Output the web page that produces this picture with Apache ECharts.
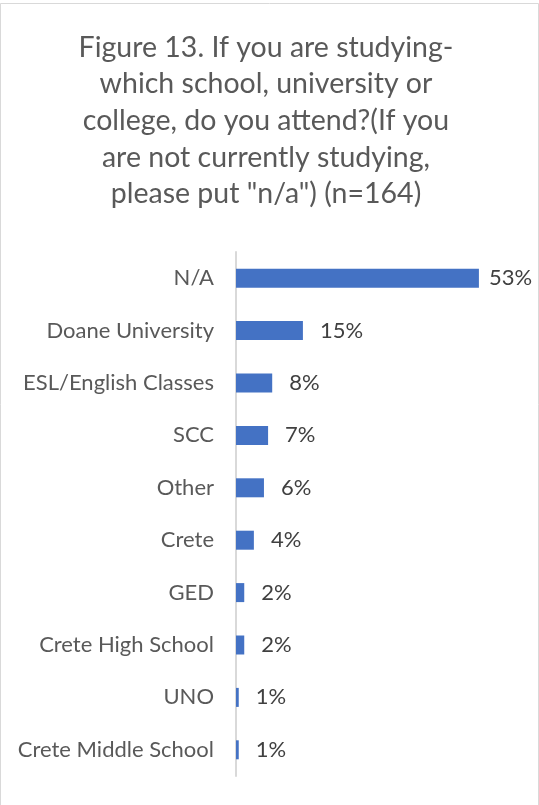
<!DOCTYPE html>
<html>
<head>
<meta charset="utf-8">
<script src="https://cdn.jsdelivr.net/npm/echarts@6/dist/echarts.min.js"></script>
<style>
html,body{margin:0;padding:0;background:#fff;}
#chart{width:539px;height:805px;}
</style>
</head>
<body>
<div id="chart"></div>
<script>
// Data (percent of respondents, n=164)
const titleText = 'Figure 13. If you are studying-\nwhich school, university or\ncollege, do you attend?(If you\nare not currently studying,\nplease put "n/a") (n=164)';
const categories = ['N/A', 'Doane University', 'ESL/English Classes', 'SCC', 'Other', 'Crete', 'GED', 'Crete High School', 'UNO', 'Crete Middle School'];
const values = [53.0, 14.6, 7.9, 7.0, 6.1, 3.9, 1.8, 1.8, 0.6, 0.6];

const FONT = 'Lato';
const chart = echarts.init(document.getElementById('chart'), null, {renderer: 'canvas'});

const seriesData = values.map((v, i) => i === 0
  ? {value: v, label: {distance: 10}}
  : {value: v});

chart.setOption({
  animation: false,
  backgroundColor: '#ffffff',
  title: {
    text: titleText,
    left: 261,
    top: 24,
    textAlign: 'center',
    textStyle: {
      fontFamily: FONT,
      fontSize: 28.5,
      fontWeight: 'normal',
      color: '#595959',
      lineHeight: 36.7
    }
  },
  graphic: [{
    type: 'rect',
    shape: {x: 0.5, y: 3.5, width: 538, height: 810},
    style: {fill: 'none', stroke: '#d9d9d9', lineWidth: 1},
    silent: true,
    z: -1
  }],
  grid: {left: 236, top: 252, height: 524, width: 275, containLabel: false},
  xAxis: {
    type: 'value',
    min: 0,
    max: 60,
    show: false
  },
  yAxis: {
    type: 'category',
    data: categories,
    inverse: true,
    axisLine: {show: true, lineStyle: {color: '#d9d9d9', width: 2}},
    axisTick: {show: false},
    splitLine: {show: false},
    axisLabel: {
      margin: 22,
      fontFamily: FONT,
      fontSize: 22,
      color: '#595959'
    }
  },
  series: [{
    type: 'bar',
    data: seriesData,
    barWidth: 19,
    itemStyle: {color: '#4472C4'},
    label: {
      show: true,
      position: 'right',
      distance: 17,
      fontFamily: FONT,
      fontSize: 22,
      color: '#404040',
      formatter: p => Math.round(p.value) + '%'
    }
  }]
});
</script>
</body>
</html>
